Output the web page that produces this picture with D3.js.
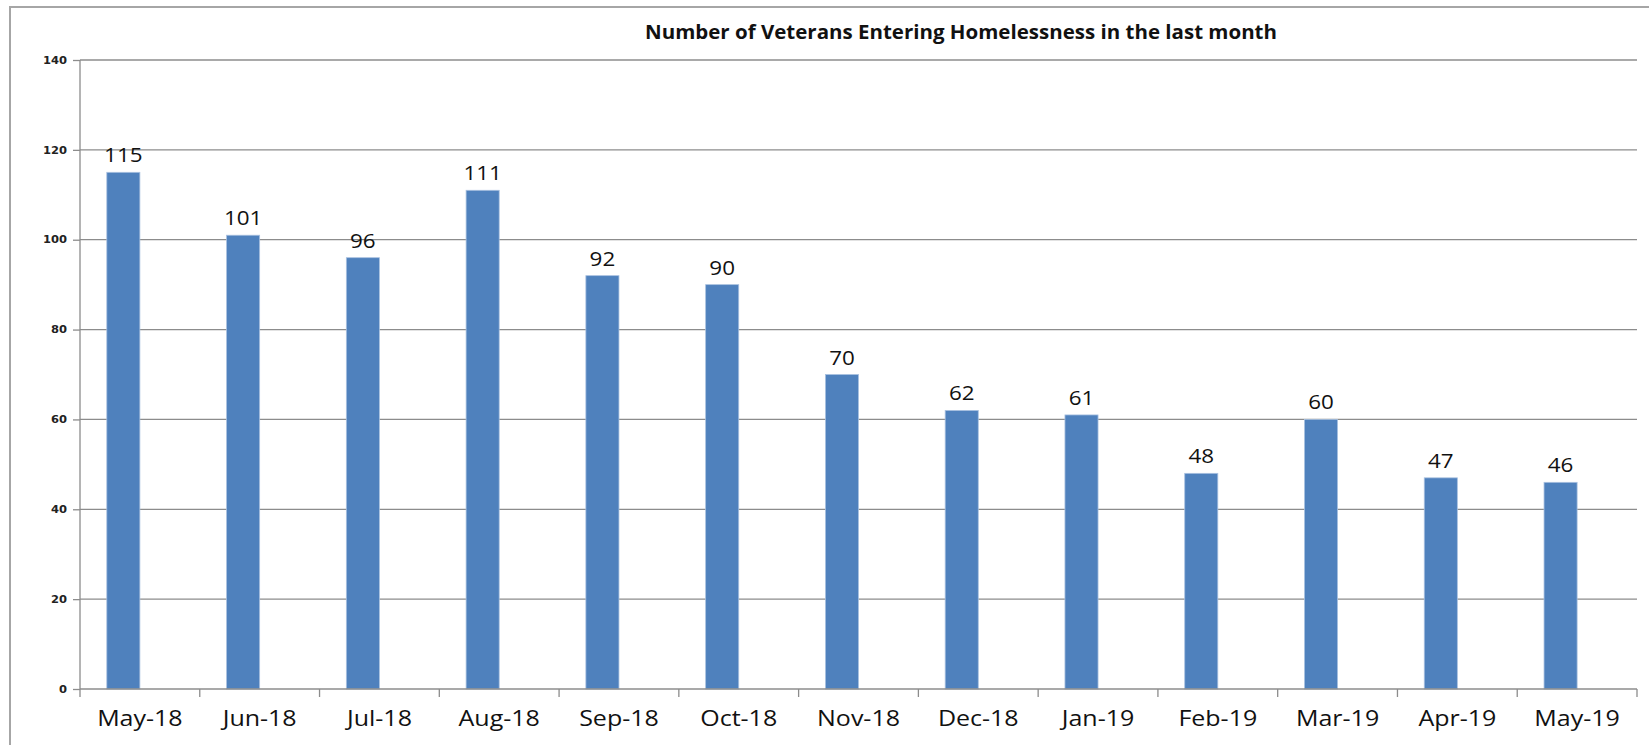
<!DOCTYPE html>
<html><head><meta charset="utf-8">
<script src="https://cdn.jsdelivr.net/npm/d3@7"></script>
<style>body{margin:0;background:#fff;} svg{display:block;}</style>
</head><body>
<svg id="c" width="1649" height="745"></svg>
<script>
const categories = ["May-18","Jun-18","Jul-18","Aug-18","Sep-18","Oct-18","Nov-18","Dec-18","Jan-19","Feb-19","Mar-19","Apr-19","May-19"];
const values = [115,101,96,111,92,90,70,62,61,48,60,47,46];
const yTicks = [0,20,40,60,80,100,120,140];
const title = "Number of Veterans Entering Homelessness in the last month";

const svg = d3.select("#c");
const m = {left:80, right:1637, top:60, bottom:689};

// widen text horizontally (reference glyphs are stretched)
function stretch(sel, f){
  sel.each(function(){
    const w = this.getComputedTextLength();
    this.setAttribute("textLength", w*f);
    this.setAttribute("lengthAdjust","spacingAndGlyphs");
  });
}

// outer border
svg.append("path").attr("d","M10,745 V7 H1649").attr("fill","none").attr("stroke","#a6a6a6").attr("stroke-width",2);

const x = d3.scaleBand().domain(categories).range([m.left, m.right]);
const x1 = d3.scaleBand().domain(["s1","s2"]).range([0, x.bandwidth()]).paddingOuter(0.81);
const y = d3.scaleLinear().domain([0,140]).range([m.bottom, m.top]);

// gridlines
svg.append("g").selectAll("line").data(yTicks.filter(d=>d>0)).join("line")
  .attr("x1",m.left).attr("x2",m.right).attr("y1",d=>y(d)).attr("y2",d=>y(d))
  .attr("stroke","#8c8c8c").attr("stroke-width",1.3);

// bars
svg.append("g").selectAll("rect").data(values).join("rect")
  .attr("x",(d,i)=>x(categories[i])+x1("s1"))
  .attr("width",x1.bandwidth())
  .attr("y",d=>y(d)).attr("height",d=>y(0)-y(d))
  .attr("fill","#4f81bd").attr("stroke","#a9c1e0").attr("stroke-width",0.8);

// value labels
const vl = svg.append("g").selectAll("text").data(values).join("text")
  .attr("x",(d,i)=>x(categories[i])+x1("s1")+x1.bandwidth()/2)
  .attr("y",d=>y(d)-10)
  .attr("text-anchor","middle")
  .attr("font-family","Open Sans, sans-serif").attr("font-size",20).attr("fill","#111")
  .text(d=>d);
stretch(vl, 1.12);

// y axis
const ya = svg.append("g").attr("transform",`translate(${m.left},0)`)
  .call(d3.axisLeft(y).tickValues(yTicks).tickSize(7).tickPadding(6));
ya.select(".domain").attr("stroke","#8c8c8c").attr("stroke-width",1.3).attr("d",`M-0,${m.bottom}V${m.top}`);
ya.selectAll(".tick line").attr("stroke","#8c8c8c").attr("stroke-width",1.3);
ya.selectAll(".tick text").attr("font-family","DejaVu Sans, sans-serif").attr("font-weight","bold").attr("font-size",10).attr("fill","#222");
stretch(ya.selectAll(".tick text"), 1.15);

// x axis
const xa = svg.append("g").attr("transform",`translate(0,${m.bottom})`)
  .call(d3.axisBottom(x).tickSize(0).tickPadding(22));
xa.select(".domain").remove();
xa.selectAll(".tick text").attr("font-family","Open Sans, sans-serif").attr("font-size",21).attr("fill","#111");
stretch(xa.selectAll(".tick text"), 1.19);
svg.append("line").attr("x1",m.left).attr("x2",m.right).attr("y1",m.bottom).attr("y2",m.bottom).attr("stroke","#8c8c8c").attr("stroke-width",1.3);
svg.append("g").selectAll("line").data(categories.map(c=>x(c)).concat([m.right])).join("line")
  .attr("x1",d=>d).attr("x2",d=>d).attr("y1",m.bottom).attr("y2",m.bottom+8)
  .attr("stroke","#8c8c8c").attr("stroke-width",1.3);

// title
const t = svg.append("text").attr("x",961).attr("y",39).attr("text-anchor","middle")
  .attr("font-family","Open Sans, sans-serif").attr("font-weight","bold").attr("font-size",19.5).attr("fill","#111")
  .text(title);
stretch(t, 1.0);
t.attr("textLength",632);
</script>
</body></html>
